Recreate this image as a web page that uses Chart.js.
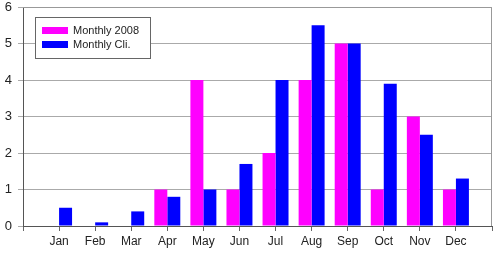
<!DOCTYPE html>
<html>
<head>
<meta charset="utf-8">
<script src="https://cdn.jsdelivr.net/npm/chart.js@4"></script>
<style>
  html, body { margin: 0; padding: 0; background: #fff; }
  #wrap { width: 496px; height: 254px; }
</style>
</head>
<body>
<div id="wrap"><canvas id="chart" width="496" height="254"></canvas></div>
<script>
// data
const months = ['Jan', 'Feb', 'Mar', 'Apr', 'May', 'Jun', 'Jul', 'Aug', 'Sep', 'Oct', 'Nov', 'Dec'];
const monthly2008 = [0, 0, 0, 1, 4, 1, 2, 4, 5, 1, 3, 1];
const monthlyCli = [0.5, 0.1, 0.4, 0.8, 1.0, 1.7, 4.0, 5.5, 5.0, 3.9, 2.5, 1.3];
const yTicks = [0, 1, 2, 3, 4, 5, 6];

// month i sits at x = i + 1, axis runs 0..13 (one empty slot each side)
function pts(arr) {
    return arr.map((v, i) => ({ x: i + 1, y: v }));
}

// legend box drawn inside the plot, top left
const boxLegend = {
    id: 'boxLegend',
    afterDraw(chart) {
        const ctx = chart.ctx;
        const x = 35, y = 17, w = 115, h = 41;
        ctx.save();
        ctx.fillStyle = '#fff';
        ctx.fillRect(x, y, w, h);
        ctx.strokeStyle = '#666';
        ctx.lineWidth = 1;
        ctx.strokeRect(x + 0.5, y + 0.5, w, h);
        ctx.font = '11px "Liberation Sans", Arial, sans-serif';
        ctx.textBaseline = 'middle';
        chart.data.datasets.forEach((ds, k) => {
            const ry = y + 10 + k * 14;
            ctx.fillStyle = ds.backgroundColor;
            ctx.fillRect(x + 7, ry, 26, 7);
            ctx.fillStyle = '#222';
            ctx.fillText(ds.label, x + 38, ry + 4);
        });
        ctx.restore();
    }
};

// top and right frame of the plot area
const frame = {
    id: 'frame',
    beforeDatasetsDraw(chart) {
        const a = chart.chartArea, ctx = chart.ctx;
        ctx.save();
        ctx.strokeStyle = '#999';
        ctx.lineWidth = 1;
        ctx.beginPath();
        ctx.moveTo(a.left, a.top + 0.5);
        ctx.lineTo(a.right - 0.5, a.top + 0.5);
        ctx.lineTo(a.right - 0.5, a.bottom);
        ctx.stroke();
        ctx.restore();
    }
};

new Chart(document.getElementById('chart').getContext('2d'), {
    type: 'bar',
    data: {
        datasets: [{
            label: 'Monthly 2008',
            data: pts(monthly2008),
            backgroundColor: '#ff00ff',
            borderWidth: 0
        }, {
            label: 'Monthly Cli.',
            data: pts(monthlyCli),
            backgroundColor: '#0000ff',
            borderWidth: 0
        }]
    },
    options: {
        responsive: false,
        animation: false,
        devicePixelRatio: 1,
        layout: { padding: { top: 7, right: 4, left: 0, bottom: 0 } },
        datasets: { bar: { categoryPercentage: 0.72, barPercentage: 1.0 } },
        plugins: { legend: { display: false }, tooltip: { enabled: false } },
        scales: {
            x: {
                type: 'linear',
                min: 0,
                max: 13,
                offset: false,
                afterBuildTicks(scale) {
                    scale.ticks = [];
                    for (let i = 0; i <= 13; i++) scale.ticks.push({ value: i });
                },
                afterFit(scale) {
                    scale.height = 28;
                    scale.paddingLeft = 0;
                    scale.paddingRight = 0;
                },
                ticks: {
                    autoSkip: false,
                    maxRotation: 0,
                    color: '#222',
                    padding: 3,
                    font: { family: '"Liberation Sans", Arial, sans-serif', size: 12 },
                    callback: (v) => months[v - 1] || ''
                },
                grid: { offset: false, drawOnChartArea: false, tickLength: 5, color: '#666' },
                border: { color: '#555' }
            },
            y: {
                min: 0,
                max: 6,
                afterBuildTicks(scale) {
                    scale.ticks = yTicks.map(v => ({ value: v }));
                },
                afterFit(scale) {
                    scale.width = 23;
                    scale.paddingTop = 0;
                    scale.paddingBottom = 0;
                },
                ticks: {
                    color: '#222',
                    padding: 6,
                    font: { family: '"Liberation Sans", Arial, sans-serif', size: 13 }
                },
                grid: { color: '#aaa', tickLength: 5 },
                border: { color: '#555' }
            }
        }
    },
    plugins: [frame, boxLegend]
});
</script>
</body>
</html>
